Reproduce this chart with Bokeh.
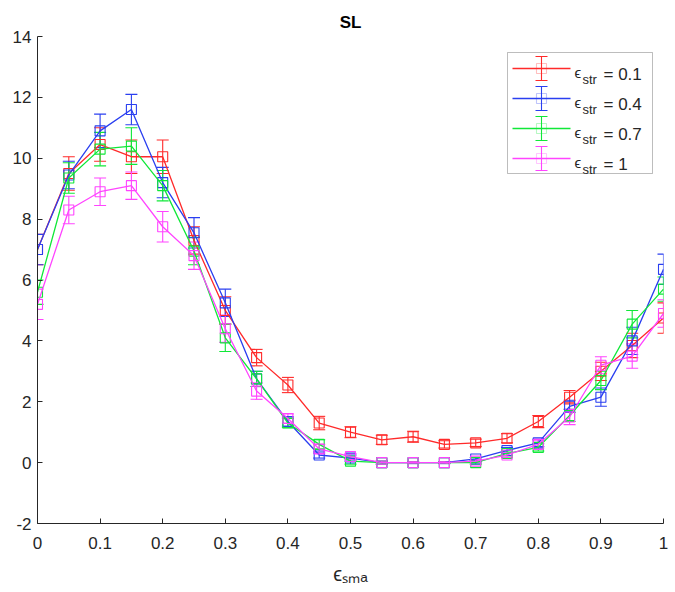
from bokeh.plotting import figure
from bokeh.models import (ColumnDataSource, Whisker, TeeHead, FixedTicker, Label,
                          BoxAnnotation, Arrow, Range1d)
from bokeh.embed import file_html
from bokeh.resources import INLINE

# ---------------- data ----------------
x_vals = [0.0, 0.05, 0.1, 0.15, 0.2, 0.25, 0.3, 0.35, 0.4, 0.45, 0.5,
          0.55, 0.6, 0.65, 0.7, 0.75, 0.8, 0.85, 0.9, 0.95, 1.0]

series_names = ["0.1", "0.4", "0.7", "1"]

y_str01 = [7.0, 9.5, 10.45, 10.05, 10.05, 7.3, 5.0, 3.45, 2.55, 1.3, 1.0,
           0.75, 0.85, 0.6, 0.65, 0.8, 1.35, 2.15, 3.0, 3.85, 4.75]
e_str01 = [0.5, 0.55, 0.55, 0.55, 0.55, 0.45, 0.45, 0.27, 0.25, 0.22, 0.18,
           0.15, 0.18, 0.12, 0.12, 0.15, 0.2, 0.22, 0.3, 0.4, 0.5]

y_str04 = [7.0, 9.45, 10.9, 11.6, 9.2, 7.55, 5.25, 2.75, 1.35, 0.25, 0.15,
           0.0, 0.0, 0.0, 0.12, 0.4, 0.65, 1.85, 2.15, 4.0, 6.35]
e_str04 = [0.5, 0.45, 0.55, 0.5, 0.5, 0.5, 0.45, 0.25, 0.15, 0.1, 0.1,
           0.05, 0.03, 0.03, 0.05, 0.1, 0.12, 0.2, 0.3, 0.45, 0.5]

y_str07 = [5.6, 9.35, 10.3, 10.4, 9.1, 6.95, 4.1, 2.75, 1.3, 0.6, 0.05,
           0.0, 0.0, 0.0, 0.0, 0.3, 0.5, 1.55, 2.7, 4.55, 5.7]
e_str07 = [0.4, 0.5, 0.55, 0.6, 0.5, 0.45, 0.45, 0.25, 0.15, 0.15, 0.1,
           0.05, 0.03, 0.03, 0.05, 0.08, 0.12, 0.2, 0.3, 0.45, 0.4]

y_str10 = [5.2, 8.3, 8.9, 9.1, 7.75, 6.8, 4.4, 2.35, 1.45, 0.45, 0.2,
           0.0, 0.0, 0.0, 0.05, 0.25, 0.6, 1.5, 3.2, 3.5, 4.9]
e_str10 = [0.5, 0.45, 0.45, 0.45, 0.5, 0.45, 0.45, 0.27, 0.15, 0.15, 0.1,
           0.05, 0.03, 0.03, 0.05, 0.08, 0.12, 0.25, 0.28, 0.4, 0.45]

x_ticks = [0.0, 0.1, 0.2, 0.3, 0.4, 0.5, 0.6, 0.7, 0.8, 0.9, 1.0]
x_tick_labels = ["0", "0.1", "0.2", "0.3", "0.4", "0.5", "0.6", "0.7", "0.8", "0.9", "1"]
y_ticks = [-2, 0, 2, 4, 6, 8, 10, 12, 14]
y_tick_labels = ["-2", "0", "2", "4", "6", "8", "10", "12", "14"]

colors = ["#ff2a2a", "#2a3ff0", "#10e838", "#ff44ff"]
FONT = "Liberation Sans"
TXT = "#262626"

# ---------------- figure ----------------
FL, FR, FT, FB_ = 37, 12, 36, 69
W, H = 675, 592
p = figure(width=W, height=H, output_backend="svg", toolbar_location=None,
           x_range=Range1d(0, 1), y_range=Range1d(-2, 14), title="SL",
           min_border_left=FL, min_border_right=FR, min_border_top=FT,
           min_border_bottom=FB_)
p.title.align = "center"
p.title.text_font = FONT
p.title.text_font_size = "17px"
p.title.text_font_style = "bold"
p.title.text_color = "#000000"
p.outline_line_color = None
p.xgrid.visible = False
p.ygrid.visible = False
p.background_fill_color = "white"
p.border_fill_color = "white"

for ax in (p.xaxis[0], p.yaxis[0]):
    ax.axis_line_color = TXT
    ax.major_tick_line_color = TXT
    ax.major_tick_in = 5
    ax.major_tick_out = 0
    ax.minor_tick_line_color = None
    ax.major_label_text_font = FONT
    ax.major_label_text_font_size = "17px"
    ax.major_label_text_color = TXT

p.xaxis.ticker = FixedTicker(ticks=x_ticks)
p.xaxis.major_label_overrides = {t: l for t, l in zip(x_ticks, x_tick_labels)}
p.xaxis.major_label_standoff = 13
p.yaxis.ticker = FixedTicker(ticks=y_ticks)
p.yaxis.major_label_overrides = {t: l for t, l in zip(y_ticks, y_tick_labels)}
p.yaxis.major_label_standoff = 6

p.xaxis.axis_label = "ϵₛₘₐ"
p.xaxis.axis_label_text_font = FONT
p.xaxis.axis_label_text_font_size = "20px"
p.xaxis.axis_label_text_font_style = "normal"
p.xaxis.axis_label_text_color = TXT
p.xaxis.axis_label_standoff = 11

all_y = [y_str01, y_str04, y_str07, y_str10]
all_e = [e_str01, e_str04, e_str07, e_str10]

for ys, es, c in zip(all_y, all_e, colors):
    src = ColumnDataSource(dict(
        x=x_vals, y=ys,
        upper=[a + b for a, b in zip(ys, es)],
        lower=[a - b for a, b in zip(ys, es)]))
    p.line("x", "y", source=src, line_color=c, line_width=1.3)
    p.add_layout(Whisker(base="x", upper="upper", lower="lower", source=src,
                         line_color=c, line_width=1.1,
                         upper_head=TeeHead(size=12, line_color=c, line_width=1.1),
                         lower_head=TeeHead(size=12, line_color=c, line_width=1.1)))
    p.scatter("x", "y", source=src, marker="square", size=10,
              fill_alpha=0, line_color=c, line_width=1.1)

# ---------------- legend (drawn by hand, screen units) ----------------
FBOT = H - FB_  # frame bottom pixel row


def sx(px):
    return px - FL


def sy(py):
    return FBOT - py


p.add_layout(BoxAnnotation(left=sx(507), right=sx(652), top=sy(52), bottom=sy(173),
                           left_units="screen", right_units="screen",
                           top_units="screen", bottom_units="screen",
                           fill_color="white", fill_alpha=1.0,
                           line_color=TXT, line_width=1, level="annotation"))

for i, (name, c) in enumerate(zip(series_names, colors)):
    cy = 68 + 30 * i
    p.add_layout(Arrow(x_start=sx(512), y_start=sy(cy), x_end=sx(570), y_end=sy(cy),
                       start_units="screen", end_units="screen", end=None,
                       line_color=c, line_width=1.3))
    p.add_layout(Arrow(x_start=sx(541), y_start=sy(cy - 12), x_end=sx(541), y_end=sy(cy + 12),
                       start_units="screen", end_units="screen",
                       start=TeeHead(size=12, line_color=c, line_width=1.1),
                       end=TeeHead(size=12, line_color=c, line_width=1.1),
                       line_color=c, line_width=1.1))
    p.add_layout(BoxAnnotation(left=sx(536), right=sx(546), top=sy(cy - 5), bottom=sy(cy + 5),
                               left_units="screen", right_units="screen",
                               top_units="screen", bottom_units="screen",
                               fill_alpha=0, line_color=c, line_width=1.1,
                               level="annotation"))
    p.add_layout(Label(x=sx(574), y=sy(cy + 4), x_units="screen", y_units="screen",
                       text="ϵ", text_font=FONT, text_font_size="15px",
                       text_color=TXT, text_baseline="alphabetic"))
    p.add_layout(Label(x=sx(582), y=sy(cy + 11), x_units="screen", y_units="screen",
                       text="str", text_font=FONT, text_font_size="13px",
                       text_color=TXT, text_baseline="alphabetic"))
    p.add_layout(Label(x=sx(603), y=sy(cy + 6), x_units="screen", y_units="screen",
                       text="= " + name, text_font=FONT, text_font_size="17px",
                       text_color=TXT, text_baseline="alphabetic"))

open("out.html", "w").write(file_html(p, INLINE))
